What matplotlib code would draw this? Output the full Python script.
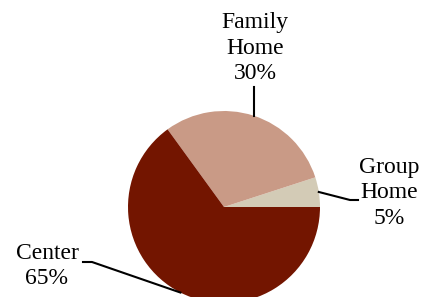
import numpy as np
import matplotlib.pyplot as plt

# Datos
categorias = ['Group\nHome', 'Family\nHome', 'Center']
porcentajes = [5, 30, 65]
colores = ['#D3CBB6', '#C99A86', '#731500']

plt.rcParams['font.family'] = ['Liberation Serif', 'DejaVu Serif']

W, H = 430, 297
fig = plt.figure(figsize=(W / 100, H / 100), dpi=100)
ax = fig.add_axes([0, 0, 1, 1])

cx, cy, r = 224, 90, 96
wedges, _ = ax.pie(porcentajes, colors=colores, startangle=0, counterclock=True,
                   center=(cx, cy), radius=r, frame=True,
                   wedgeprops=dict(linewidth=0))
ax.set_xlim(0, W)
ax.set_ylim(0, H)
ax.set_aspect('equal')
ax.axis('off')

def borde(w):
    ang = np.deg2rad((w.theta1 + w.theta2) / 2)
    return cx + r * np.cos(ang), cy + r * np.sin(ang)

estilo = dict(ha='center', va='center', fontsize=17, linespacing=1.28)

# Group Home
x0, y0 = borde(wedges[0])
ax.plot([x0, 350, 358], [y0, 97, 97], color='black', lw=1.5, clip_on=False)
ax.text(389, 104, f'{categorias[0]}\n{porcentajes[0]}%', **estilo)

# Family Home
x1, y1 = borde(wedges[1])
ax.plot([x1, x1], [y1, 210], color='black', lw=1.5)
ax.text(255, 249, f'{categorias[1]}\n{porcentajes[1]}%', **estilo)

# Center
x2, y2 = borde(wedges[2])
ax.plot([x2, 92, 83], [y2, 35, 35], color='black', lw=1.5, clip_on=False)
ax.text(47, 31, f'{categorias[2]}\n{porcentajes[2]}%', **estilo)

fig.savefig('out.png', dpi=100)
